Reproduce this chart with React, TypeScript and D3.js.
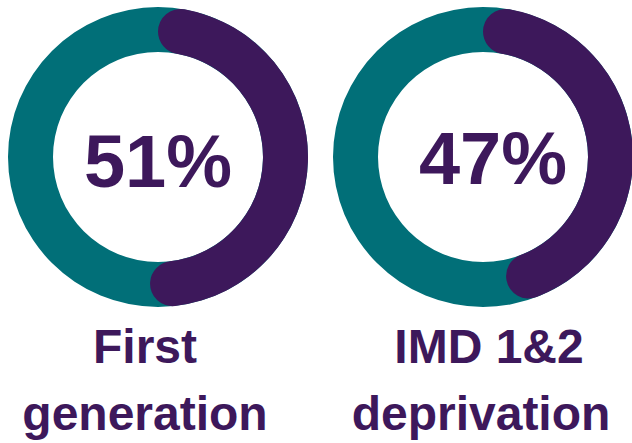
import { useEffect, useRef } from "react";
import * as d3 from "d3";

const labels = ["51%", "47%"];
const shares = [0.51, 0.47];
const captionTop = ["First", "IMD 1&2"];
const captionBottom = ["generation", "deprivation"];

const TEAL = "#016f78";
const PURPLE = "#3d185b";

export default function App() {
  const svgRef = useRef<SVGSVGElement>(null);

  useEffect(() => {
    if (!svgRef.current) return;
    const svg = d3.select(svgRef.current);
    svg.selectAll("*").remove();

    const width = 632;
    const height = 443;
    const outer = 150;
    const inner = 105;
    // 도넛 중심
    const cx = [158, 483];
    const cy = 157;
    // 글자 위치
    const pctX = [158, 493];
    const pctY = [187, 184];
    const topX = [145, 489];
    const bottomX = [145, 481];

    svg.attr("width", width).attr("height", height);

    const ring = d3
      .arc<any>()
      .innerRadius(inner)
      .outerRadius(outer)
      .startAngle(0)
      .endAngle(2 * Math.PI);

    const angle = d3
      .scaleLinear()
      .domain([0, 1])
      .range([0, 2 * Math.PI]);

    const part = d3
      .arc<number>()
      .innerRadius(inner)
      .outerRadius(outer)
      .cornerRadius((outer - inner) / 2)
      .startAngle(0)
      .endAngle((d) => angle(d));

    const g = svg
      .selectAll("g.donut")
      .data(shares)
      .enter()
      .append("g")
      .attr("class", "donut");

    g.each(function (d, i) {
      const group = d3.select(this);
      const donut = group
        .append("g")
        .attr("transform", `translate(${cx[i]},${cy})`);
      donut.append("path").attr("d", ring({}) as string).attr("fill", TEAL);
      donut.append("path").attr("d", part(d) as string).attr("fill", PURPLE);

      group
        .append("text")
        .attr("x", pctX[i])
        .attr("y", pctY[i])
        .attr("text-anchor", "middle")
        .attr("font-size", 74)
        .attr("font-weight", "bold")
        .attr("fill", PURPLE)
        .text(labels[i]);

      group
        .append("text")
        .attr("x", topX[i])
        .attr("y", 363)
        .attr("text-anchor", "middle")
        .attr("font-size", 48)
        .attr("font-weight", "bold")
        .attr("fill", PURPLE)
        .text(captionTop[i]);

      group
        .append("text")
        .attr("x", bottomX[i])
        .attr("y", 430)
        .attr("text-anchor", "middle")
        .attr("font-size", 48)
        .attr("font-weight", "bold")
        .attr("fill", PURPLE)
        .text(captionBottom[i]);
    });
  }, []);

  return (
    <svg
      ref={svgRef}
      style={{
        position: "absolute",
        left: 0,
        top: 0,
        display: "block",
        background: "white",
        fontFamily: "'Liberation Sans', Arial, sans-serif",
      }}
    />
  );
}
